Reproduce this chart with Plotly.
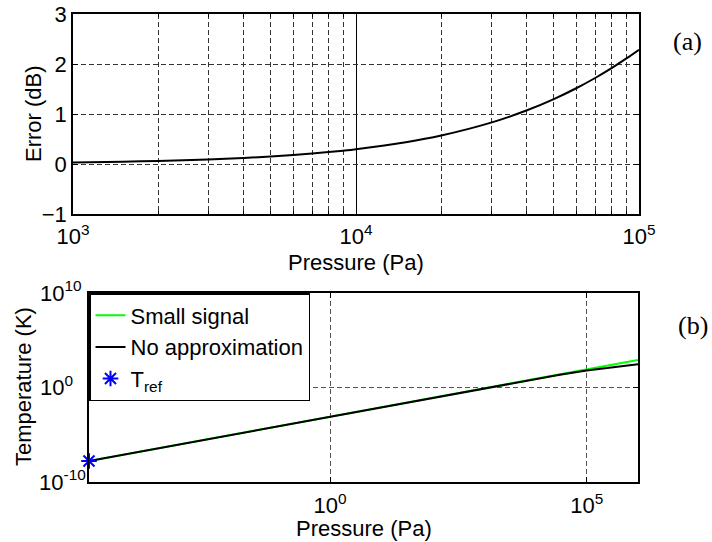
import plotly.graph_objects as go

# ---- data ----
# panel (a): error of the small-signal approximation
p_err = [1e3, 1.5e3, 2e3, 3e3, 4e3, 5e3, 6e3, 7e3, 8e3, 9e3, 1e4, 1.5e4, 2e4,
         3e4, 4e4, 5e4, 6e4, 7e4, 8e4, 9e4, 1e5]
err_db = [0.031, 0.046, 0.061, 0.091, 0.121, 0.150, 0.180, 0.209, 0.238, 0.266,
          0.295, 0.435, 0.569, 0.827, 1.069, 1.298, 1.515, 1.720, 1.917, 2.106, 2.285]

# panel (b): temperature vs pressure
p_T = [2e-5, 1e-4, 1e-2, 1, 1e2, 1e4, 3e4, 1e5, 3e5, 1e6]
T_small = [1.65e-8, 8.26e-8, 8.26e-6, 8.26e-4, 8.26e-2, 8.26, 24.8, 82.6, 248, 826]
T_exact = [1.65e-8, 8.26e-8, 8.26e-6, 8.26e-4, 8.26e-2, 7.98, 22.5, 63.5, 141, 286]
p_ref = [2e-5]
T_ref = [1.65e-8]

# tick labels
xa_ticks = [1e3, 1e4, 1e5]
xa_text = ["10<sup>3</sup>", "10<sup>4</sup>", "10<sup>5</sup>"]
xa_minor = [2e3, 3e3, 4e3, 5e3, 6e3, 7e3, 8e3, 9e3, 2e4, 3e4, 4e4, 5e4, 6e4, 7e4, 8e4, 9e4]
ya_ticks = [-1, 0, 1, 2, 3]
xb_ticks = [1, 1e5]
xb_text = ["10<sup>0</sup>", "10<sup>5</sup>"]
yb_ticks = [1e-10, 1, 1e10]
yb_text = ["10<sup>-10</sup>", "10<sup>0&nbsp;&nbsp;&nbsp;</sup>", "10<sup>10&nbsp;</sup>"]

W, H = 712, 542
FONT = "Liberation Sans, Arial, sans-serif"
FS = 22

fig = go.Figure()
fig.add_trace(go.Scatter(x=p_err, y=err_db, mode="lines", line=dict(color="black", width=2, shape="spline"),
                         xaxis="x", yaxis="y", showlegend=False))
fig.add_trace(go.Scatter(x=p_T, y=T_small, mode="lines", name="Small signal",
                         line=dict(color="#00ff00", width=2), xaxis="x2", yaxis="y2"))
fig.add_trace(go.Scatter(x=p_T, y=T_exact, mode="lines", name="No approximation",
                         line=dict(color="black", width=2), xaxis="x2", yaxis="y2"))
fig.add_trace(go.Scatter(x=p_ref, y=T_ref, mode="markers", name="T<sub>ref</sub>",
                         marker=dict(symbol="asterisk-open", size=13, color="#0000ff",
                                     line=dict(color="#0000ff", width=2)),
                         cliponaxis=False, xaxis="x2", yaxis="y2"))

axis_common = dict(showline=True, mirror="ticks", linecolor="black", linewidth=1.5,
                   ticks="inside", ticklen=5, tickcolor="black", zeroline=False,
                   automargin=False,
                   tickfont=dict(family=FONT, size=FS, color="black"))

fig.update_layout(
    template="none",
    width=W, height=H, margin=dict(l=0, r=0, t=0, b=0, pad=0, autoexpand=False),
    paper_bgcolor="white", plot_bgcolor="white",
    xaxis=dict(type="log", range=[3, 5], domain=[73 / W, 639 / W], anchor="y",
               tickvals=xa_ticks, ticktext=xa_text, ticklabelstandoff=2,
               showgrid=True, gridcolor="black", gridwidth=1,
               minor=dict(tickvals=xa_minor, showgrid=True, gridcolor="#333333", gridwidth=1,
                          griddash="5px,3px", ticks="inside", ticklen=3, tickcolor="black"),
               **axis_common),
    yaxis=dict(range=[-1, 3], domain=[(H - 214) / H, (H - 14) / H], anchor="x",
               tickvals=ya_ticks, showgrid=True, gridcolor="#333333", gridwidth=1,
               griddash="5px,3px", **axis_common),
    xaxis2=dict(type="log", range=[-4.69899, 6.0], domain=[89 / W, 638 / W], anchor="y2",
                tickvals=xb_ticks, ticktext=xb_text, ticklabelstandoff=3,
                showgrid=True, gridcolor="#555555",
                gridwidth=1, griddash="5px,3px", **axis_common),
    yaxis2=dict(type="log", range=[-10, 10], domain=[(H - 482) / H, (H - 293) / H], anchor="x2",
                tickvals=yb_ticks, ticktext=yb_text, ticklabelstandoff=-3,
                showgrid=True, gridcolor="#555555",
                gridwidth=1, griddash="5px,3px", **axis_common),
    legend=dict(x=89 / W, y=(H - 293) / H, xanchor="left", yanchor="top",
                bgcolor="white", bordercolor="black", borderwidth=1.5,
                font=dict(family=FONT, size=22, color="black"),
                tracegroupgap=0, itemwidth=30),
    showlegend=True,
)

ann_font = dict(family=FONT, size=FS, color="black")


def label(text, x, y, angle=0, font=ann_font):
    fig.add_annotation(text=text, x=x / W, y=(H - y) / H, xref="paper", yref="paper",
                       xanchor="center", yanchor="middle", textangle=angle,
                       showarrow=False, font=font)


label("Error (dB)", 33, 114, -90)
label("Pressure (Pa)", 356, 262)
label("Temperature (K)", 23, 387, -90)
label("Pressure (Pa)", 364, 528)
serif = dict(family="Liberation Serif, Times New Roman, serif", size=26, color="black")
label("(a)", 687, 42, font=serif)
label("(b)", 693, 325, font=serif)

fig.write_html("out.html")
